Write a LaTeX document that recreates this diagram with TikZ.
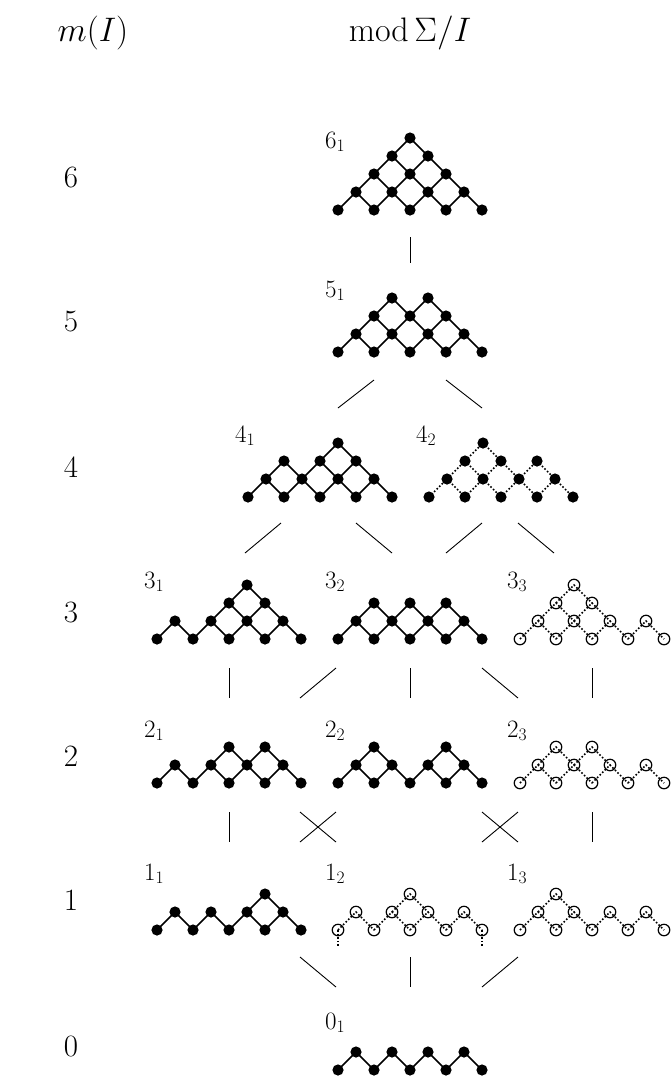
\RequirePackage{fix-cm}
\documentclass[tikz,border=0pt]{standalone}
\usepackage{amsmath}
\tikzset{
  sdot/.style={circle,fill=black,inner sep=0pt,minimum size=11.2pt},
  hdot/.style={circle,draw=black,line width=1.2pt,inner sep=0pt,minimum size=11.5pt},
  sedge/.style={line width=1.5pt},
  dedge/.style={line width=1.6pt,dash pattern=on 1.6pt off 2pt},
  conn/.style={line width=0.9pt},
  lab/.style={anchor=base west,inner sep=0pt,font=\fontsize{25}{30}\selectfont},
  big/.style={inner sep=0pt,font=\fontsize{31}{37}\selectfont},
  head/.style={inner sep=0pt,font=\fontsize{34}{40}\selectfont},
}
% #1 name, #2 x0, #3 y0, #4 extra points i/r, #5 edge style, #6 dot style
\newcommand\lattice[6]{%
  \foreach \i in {0,...,4} {\coordinate (#1-\i-0) at ({#2+36*\i},{#3});}
  \foreach \i in {0,...,3} {\coordinate (#1-\i-1) at ({#2+36*\i+18},{#3-18});}
  \if\relax\detokenize{#4}\relax\else
    \foreach \i/\r in {#4} {\coordinate (#1-\i-\r) at ({#2+36*\i+18*\r},{#3-18*\r});}
  \fi
  \foreach \i in {0,...,3} {\pgfmathtruncatemacro\j{\i+1}%
    \draw[#5] (#1-\i-0) -- (#1-\i-1) -- (#1-\j-0);}
  \if\relax\detokenize{#4}\relax\else
    \foreach \i/\r in {#4} {\pgfmathtruncatemacro\j{\i+1}\pgfmathtruncatemacro\q{\r-1}%
      \draw[#5] (#1-\i-\q) -- (#1-\i-\r) -- (#1-\j-\q);}
  \fi
  \foreach \i in {0,...,4} {\node[#6] (#1-\i-0-d) at (#1-\i-0) {};}
  \foreach \i in {0,...,3} {\node[#6] (#1-\i-1-d) at (#1-\i-1) {};}
  \if\relax\detokenize{#4}\relax\else
    \foreach \i/\r in {#4} {\node[#6] (#1-\i-\r-d) at (#1-\i-\r) {};}
  \fi
}
\begin{document}
\begin{tikzpicture}[x=1pt,y=-1pt]
\path[use as bounding box] (0,0) rectangle (672,1077);
% headers
\node[head] (hm) at (93,33) {$m(I)$};
\node[head] (hmod) at (410,33) {$\operatorname{mod}\Sigma/I$};
% left column
\node[big] (n6) at (71,178) {$6$};
\node[big] (n5) at (71,322) {$5$};
\node[big] (n4) at (71,467) {$4$};
\node[big] (n3) at (71,612) {$3$};
\node[big] (n2) at (71,756) {$2$};
\node[big] (n1) at (71,900) {$1$};
\node[big] (n0) at (71,1046) {$0$};
% figures
\lattice{f61}{338}{210}{0/2,1/2,2/2,0/3,1/3,0/4}{sedge}{sdot}
\lattice{f51}{338}{352}{0/2,1/2,2/2,0/3,1/3}{sedge}{sdot}
\lattice{f41}{248}{497}{0/2,1/2,2/2,1/3}{sedge}{sdot}
\lattice{f42}{429}{497}{0/2,1/2,2/2,0/3}{dedge}{sdot}
\lattice{f31}{157}{639}{1/2,2/2,1/3}{sedge}{sdot}
\lattice{f32}{338}{639}{0/2,1/2,2/2}{sedge}{sdot}
\lattice{f33}{520}{639}{0/2,1/2,0/3}{dedge}{hdot}
\lattice{f21}{157}{783}{1/2,2/2}{sedge}{sdot}
\lattice{f22}{338}{783}{0/2,2/2}{sedge}{sdot}
\lattice{f23}{520}{783}{0/2,1/2}{dedge}{hdot}
\lattice{f11}{157}{930}{2/2}{sedge}{sdot}
\lattice{f12}{338}{930}{1/2}{dedge}{hdot}
\lattice{f13}{520}{930}{0/2}{dedge}{hdot}
\lattice{f01}{338}{1070}{}{sedge}{sdot}
% stubs below 1_2
\coordinate (s12a) at (338,947);
\coordinate (s12b) at (482,947);
\draw[dedge] (f12-0-0) -- (s12a);
\draw[dedge] (f12-4-0) -- (s12b);
% labels
\node[lab] (l61) at (325,148) {$6_1$};
\node[lab] (l51) at (325,297) {$5_1$};
\node[lab] (l41) at (235,442) {$4_1$};
\node[lab] (l42) at (416,442) {$4_2$};
\node[lab] (l31) at (144,588) {$3_1$};
\node[lab] (l32) at (325,588) {$3_2$};
\node[lab] (l33) at (507,588) {$3_3$};
\node[lab] (l21) at (144,737) {$2_1$};
\node[lab] (l22) at (325,737) {$2_2$};
\node[lab] (l23) at (507,737) {$2_3$};
\node[lab] (l11) at (144,880) {$1_1$};
\node[lab] (l12) at (325,880) {$1_2$};
\node[lab] (l13) at (507,880) {$1_3$};
\node[lab] (l01) at (325,1029) {$0_1$};
% connectors 6-5
\coordinate (a1) at (410,237); \coordinate (a2) at (410,263);
\draw[conn] (a1) -- (a2);
% 5-4
\coordinate (b1) at (338,408); \coordinate (b2) at (374,380);
\coordinate (b3) at (446,380); \coordinate (b4) at (482,408);
\draw[conn] (b1) -- (b2);
\draw[conn] (b3) -- (b4);
% 4-3
\coordinate (c1) at (245,553); \coordinate (c2) at (281,523);
\coordinate (c3) at (356,523); \coordinate (c4) at (392,553);
\coordinate (c5) at (446,553); \coordinate (c6) at (482,523);
\coordinate (c7) at (518,523); \coordinate (c8) at (554,553);
\draw[conn] (c1) -- (c2);
\draw[conn] (c3) -- (c4);
\draw[conn] (c5) -- (c6);
\draw[conn] (c7) -- (c8);
% 3-2
\coordinate (d1) at (229,668); \coordinate (d2) at (229,698);
\coordinate (d3) at (300,698); \coordinate (d4) at (336,668);
\coordinate (d5) at (410,668); \coordinate (d6) at (410,698);
\coordinate (d7) at (482,668); \coordinate (d8) at (518,698);
\coordinate (d9) at (592,668); \coordinate (d10) at (592,698);
\draw[conn] (d1) -- (d2);
\draw[conn] (d3) -- (d4);
\draw[conn] (d5) -- (d6);
\draw[conn] (d7) -- (d8);
\draw[conn] (d9) -- (d10);
% 2-1
\coordinate (e1) at (229,812); \coordinate (e2) at (229,842);
\coordinate (e3) at (300,812); \coordinate (e4) at (336,842);
\coordinate (e5) at (300,842); \coordinate (e6) at (336,812);
\coordinate (e7) at (482,812); \coordinate (e8) at (518,842);
\coordinate (e9) at (482,842); \coordinate (e10) at (518,812);
\coordinate (e11) at (592,812); \coordinate (e12) at (592,842);
\draw[conn] (e1) -- (e2);
\draw[conn] (e3) -- (e4);
\draw[conn] (e5) -- (e6);
\draw[conn] (e7) -- (e8);
\draw[conn] (e9) -- (e10);
\draw[conn] (e11) -- (e12);
% 1-0
\coordinate (g1) at (300,957); \coordinate (g2) at (336,987);
\coordinate (g3) at (410,957); \coordinate (g4) at (410,987);
\coordinate (g5) at (482,987); \coordinate (g6) at (518,957);
\draw[conn] (g1) -- (g2);
\draw[conn] (g3) -- (g4);
\draw[conn] (g5) -- (g6);
\end{tikzpicture}
\end{document}
